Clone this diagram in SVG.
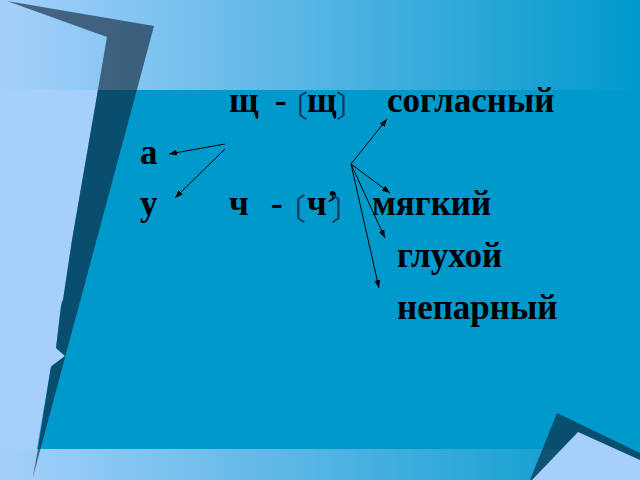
<svg xmlns="http://www.w3.org/2000/svg" width="640" height="480" viewBox="0 0 640 480">
<defs>
<linearGradient id="band" x1="0" y1="0" x2="640" y2="0" gradientUnits="userSpaceOnUse">
<stop offset="0" stop-color="#a6d0fb"/>
<stop offset="1" stop-color="#0099cc"/>
</linearGradient>
<marker id="ah" viewBox="0 0 8 6" refX="8" refY="3" markerWidth="8" markerHeight="6" markerUnits="userSpaceOnUse" orient="auto">
<path d="M0,0 L8,3 L0,6 z" fill="#000"/>
</marker>
<style>
.t{font-family:"Liberation Serif","Times New Roman",serif;font-weight:bold;font-size:35px;fill:#000}
.br{font-family:"Noto Sans CJK SC","DejaVu Sans",sans-serif;font-size:30px;fill:#163a5a}
.ar{stroke:#000;stroke-width:1;fill:none;marker-end:url(#ah)}
.shade{fill:#0d2134;fill-opacity:0.61}
</style>
</defs>
<g id="background">
<rect x="0" y="0" width="640" height="480" fill="#a6d0fb"/>
<rect x="0" y="0" width="640" height="90" fill="url(#band)"/>
<rect x="0" y="449" width="640" height="31" fill="url(#band)"/>
<polygon fill="#0099cc" points="98,90 640,90 640,449 37,449 50.7,368 51.7,366 65,356 56,348 61,306 62,302 63,300 72,240"/>
<polygon class="shade" points="7,1 154,26 32.7,478 38,449 50.7,368 51.7,366 65,356 56,348 61,306 62,302 63,300 72,240 107,37"/>
<polygon class="shade" points="557,413 640,453 640,480 530,480"/>
<polygon fill="#a6d0fb" points="578,432 640,460 640,480 532,480"/>
</g>
<g id="node-shch">
<text class="t" x="229" y="112">щ</text>
<text class="t" x="275" y="112">-</text>
<text class="br" x="278" y="117">〔</text>
<text class="t" x="307" y="112">щ</text>
<text class="br" x="336" y="117">〕</text>
</g>
<g id="node-soglasny"><text class="t" x="387" y="112">согласный</text></g>
<g id="node-a"><text class="t" x="140" y="164">а</text></g>
<g id="node-u"><text class="t" x="140" y="215">у</text></g>
<g id="node-ch">
<text class="t" x="229" y="215">ч</text>
<text class="t" x="271" y="215">-</text>
<text class="br" x="276" y="220">〔</text>
<text class="t" x="307" y="215">ч’</text>
<text class="br" x="331" y="220">〕</text>
</g>
<g id="node-myagky"><text class="t" x="372" y="215">мягкий</text></g>
<g id="node-gluhoy"><text class="t" x="397" y="267">глухой</text></g>
<g id="node-neparny"><text class="t" x="397" y="319">непарный</text></g>
<g id="connectors">
<line class="ar" x1="225" y1="144" x2="169" y2="154"/>
<line class="ar" x1="225" y1="149" x2="175" y2="198"/>
<line class="ar" x1="351" y1="164" x2="387" y2="119"/>
<line class="ar" x1="351" y1="164" x2="390" y2="193"/>
<line class="ar" x1="351" y1="164" x2="385" y2="238"/>
<line class="ar" x1="351" y1="164" x2="379" y2="288"/>
</g>
</svg>
